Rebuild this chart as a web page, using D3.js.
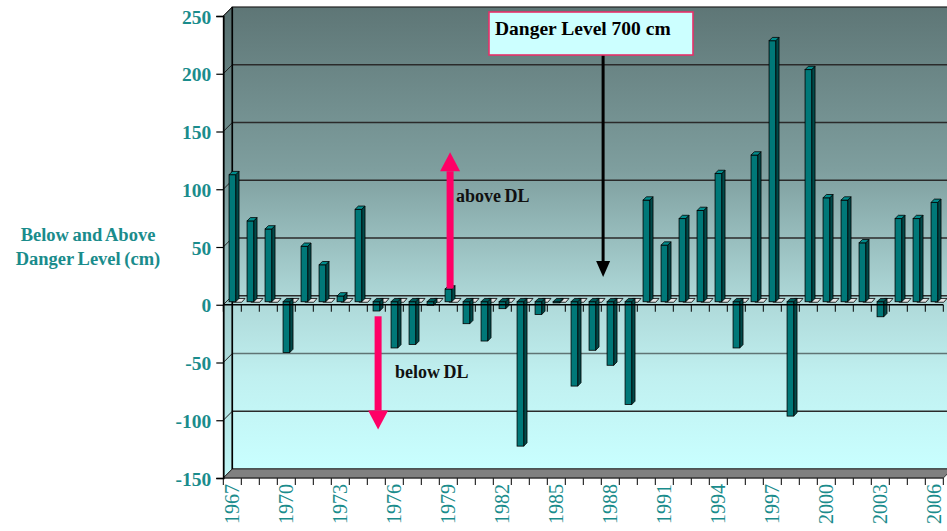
<!DOCTYPE html>
<html><head><meta charset="utf-8">
<script src="https://cdn.jsdelivr.net/npm/d3@7"></script>
<style>body{margin:0;background:#fff}svg{display:block}</style>
</head><body><svg id="c" width="947" height="531"></svg>
<script>
const years = d3.range(1967, 2007);
const values = [110,70,63,-44,48,32,5,80,-8,-40,-37,-3,11,-19,-34,-6,-125,-11,-1,-73,-42,-55,-89,88,49,72,79,111,-40,127,226,-99,201,90,88,51,-13,72,72,86];
const yTicks = [-150,-100,-50,0,50,100,150,200,250];
const xLabelYears = years.filter((d,i)=>i%3===0);
const yTitle = ["Below and Above","Danger Level (cm)"];
const boxText = "Danger Level 700 cm";
const upArrow = {year:1979, from:14, to:132, label:"above DL"};
const downArrow = {year:1975, from:-10, to:-108, label:"below DL"};
const blackArrow = {year:1987, to:24};

const svg = d3.select("#c");
const serif = "'Liberation Serif','Times New Roman',serif";
const teal = "#1a8c8c";
const DX = 9, DY = 9;
const y = d3.scaleLinear().domain([-150,250]).range([478,16]);
const x = d3.scaleBand().domain(years).range([223.3,943.3]);
const bw = x.bandwidth();
const x0 = x.range()[0], x1 = x.range()[1];
const yTop = y(250), yBot = y(-150);

const defs = svg.append("defs");
const g1 = defs.append("linearGradient").attr("id","wall").attr("gradientUnits","userSpaceOnUse")
  .attr("x1",0).attr("x2",0).attr("y1",yTop-DY).attr("y2",yBot-DY);
[[0,"#5e7676"],[0.35,"#7e9e9e"],[0.62,"#acd6d6"],[0.8,"#c0f0f0"],[1,"#c9ffff"]].forEach(s=>g1.append("stop").attr("offset",s[0]).attr("stop-color",s[1]));
const g2 = defs.append("linearGradient").attr("id","side").attr("gradientUnits","userSpaceOnUse")
  .attr("x1",0).attr("x2",0).attr("y1",yTop-DY).attr("y2",yBot);
[[0,"#566e6e"],[0.35,"#759595"],[0.62,"#a2cccc"],[1,"#c0f6f6"]].forEach(s=>g2.append("stop").attr("offset",s[0]).attr("stop-color",s[1]));

// back wall
svg.append("rect").attr("x",x0+DX).attr("y",yTop-DY).attr("width",x1-x0+10).attr("height",yBot-yTop)
  .attr("fill","url(#wall)").attr("stroke","#222").attr("stroke-width",1.2);
// side wall
svg.append("path").attr("d",`M${x0},${yTop}L${x0+DX},${yTop-DY}L${x0+DX},${yBot-DY}L${x0},${yBot}Z`)
  .attr("fill","url(#side)").attr("stroke","#222").attr("stroke-width",1);
// gridlines
yTicks.filter(v=>v>-150 && v<250).forEach(v=>{
  const c = v===-50 ? "#5f7474" : "#2a2a2a";
  svg.append("line").attr("x1",x0+DX).attr("x2",x1+DX+10).attr("y1",y(v)-DY).attr("y2",y(v)-DY).attr("stroke",c).attr("stroke-width",1.3);
});
yTicks.forEach(v=>{
  svg.append("line").attr("x1",x0).attr("x2",x0+DX).attr("y1",y(v)).attr("y2",y(v)-DY).attr("stroke","#222").attr("stroke-width",1);
});
// floor
svg.append("path").attr("d",`M${x0},${yBot}L${x1},${yBot}L${x1+DX},${yBot-DY}L${x0+DX},${yBot-DY}Z`)
  .attr("fill","#808080").attr("stroke","#333").attr("stroke-width",1);
// back wall left edge
svg.append("line").attr("x1",x0+DX).attr("x2",x0+DX).attr("y1",yTop-DY).attr("y2",yBot-DY).attr("stroke","#000").attr("stroke-width",1.6);

// bars
const d0 = 3, d1 = 6.3, fOff = bw*0.32, fW = bw*0.37;
const y0 = y(0);
const bars = svg.append("g");
years.forEach((yr,i)=>{
  const v = values[i];
  const fx = x(yr) + fOff;
  const yv = y(v) - d0, yb = y0 - d0;
  const dd = d1 - d0;
  // base cap
  bars.append("path").attr("d",`M${fx+fW*0.6},${yb+0.5}L${fx+fW+6},${yb+0.5}L${fx+fW+6+dd},${yb-dd}L${fx+fW*0.6+dd},${yb-dd}Z`)
    .attr("fill","#e4e4e4").attr("stroke","#000").attr("stroke-width",0.8);
  const top = Math.min(yv,yb), bot = Math.max(yv,yb);
  // side
  bars.append("path").attr("d",`M${fx+fW},${top}L${fx+fW+dd},${top-dd}L${fx+fW+dd},${bot-dd}L${fx+fW},${bot}Z`)
    .attr("fill","#004a4a").attr("stroke","#000").attr("stroke-width",0.8);
  // front
  bars.append("rect").attr("x",fx).attr("y",top).attr("width",fW).attr("height",Math.max(bot-top,0.5))
    .attr("fill","#007878").attr("stroke","#000").attr("stroke-width",0.8);
  // top cap
  bars.append("path").attr("d",`M${fx},${top}L${fx+dd},${top-dd}L${fx+fW+dd},${top-dd}L${fx+fW},${top}Z`)
    .attr("fill", v<0 ? "#005a5a" : "#008c8c").attr("stroke","#000").attr("stroke-width",0.8);
});

// front zero axis + ticks
svg.append("line").attr("x1",x0).attr("x2",x1).attr("y1",y0).attr("y2",y0).attr("stroke","#000").attr("stroke-width",1.3);
const bounds = years.map(d=>x(d)).concat([x1]);
bounds.forEach(b=>{
  svg.append("line").attr("x1",b).attr("x2",b).attr("y1",y0).attr("y2",y0+7).attr("stroke","#000").attr("stroke-width",1);
  svg.append("line").attr("x1",b).attr("x2",b).attr("y1",yBot).attr("y2",yBot+7).attr("stroke","#000").attr("stroke-width",1);
});
svg.append("line").attr("x1",x0).attr("x2",x1).attr("y1",yBot).attr("y2",yBot).attr("stroke","#333").attr("stroke-width",1);

// y axis
const yAxis = d3.axisLeft(y).tickValues(yTicks).tickSize(7).tickPadding(5).tickFormat(d=>String(d));
const ya = svg.append("g").attr("transform",`translate(${x0},0)`).call(yAxis);
ya.select(".domain").attr("stroke","#000").attr("stroke-width",1.6);
ya.selectAll(".tick line").attr("stroke","#000").attr("stroke-width",1.2);
ya.selectAll(".tick text").attr("fill",teal).attr("font-family",serif).attr("font-weight","bold").attr("font-size",19.5).attr("dy","0.36em");

// x labels
xLabelYears.forEach(yr=>{
  const cx = x(yr)+bw/2;
  svg.append("text").attr("transform",`translate(${cx+6.5},${yBot+6}) rotate(-90)`)
    .attr("text-anchor","end").attr("font-family",serif).attr("font-size",20).attr("fill",teal).text(yr);
});

// y title
yTitle.forEach((t,i)=>{
  svg.append("text").attr("x",88).attr("y",241+i*24).attr("text-anchor","middle")
    .attr("font-family",serif).attr("font-weight","bold").attr("font-size",18.5).attr("fill",teal)
    .attr("word-spacing",-1).text(t);
});

// black arrow + box
const bax = x(blackArrow.year)+bw*1.1;
svg.append("line").attr("x1",bax).attr("x2",bax).attr("y1",55).attr("y2",262).attr("stroke","#000").attr("stroke-width",3);
svg.append("path").attr("d",`M${bax-7},${261}L${bax+7},${261}L${bax},${y(blackArrow.to)}Z`).attr("fill","#000");
svg.append("rect").attr("x",489).attr("y",12).attr("width",204).attr("height",43).attr("fill","#ccffff").attr("stroke","#e8306a").attr("stroke-width",1.6);
svg.append("text").attr("x",495).attr("y",35).attr("font-family",serif).attr("font-weight","bold").attr("font-size",19.5).attr("fill","#000").text(boxText);

// pink arrows
const pink = "#ff0066";
function arrow(a, dir){
  const cx = x(a.year)+bw*0.6;
  const yf = y(a.from), yt = y(a.to);
  const hl = 19;
  const hb = yt + dir*hl;
  svg.append("rect").attr("x",cx-3.5).attr("y",Math.min(yf,hb)).attr("width",7).attr("height",Math.abs(yf-hb)).attr("fill",pink);
  svg.append("path").attr("d",`M${cx-10},${hb}L${cx+10},${hb}L${cx},${yt}Z`).attr("fill",pink);
}
arrow(upArrow, 1);
arrow(downArrow, -1);
svg.append("text").attr("x",456).attr("y",202).attr("font-family",serif).attr("font-weight","bold").attr("font-size",18).attr("fill","#111").attr("word-spacing",-1).text(upArrow.label);
svg.append("text").attr("x",395).attr("y",378).attr("font-family",serif).attr("font-weight","bold").attr("font-size",18).attr("fill","#111").attr("word-spacing",-1).text(downArrow.label);
</script></body></html>
